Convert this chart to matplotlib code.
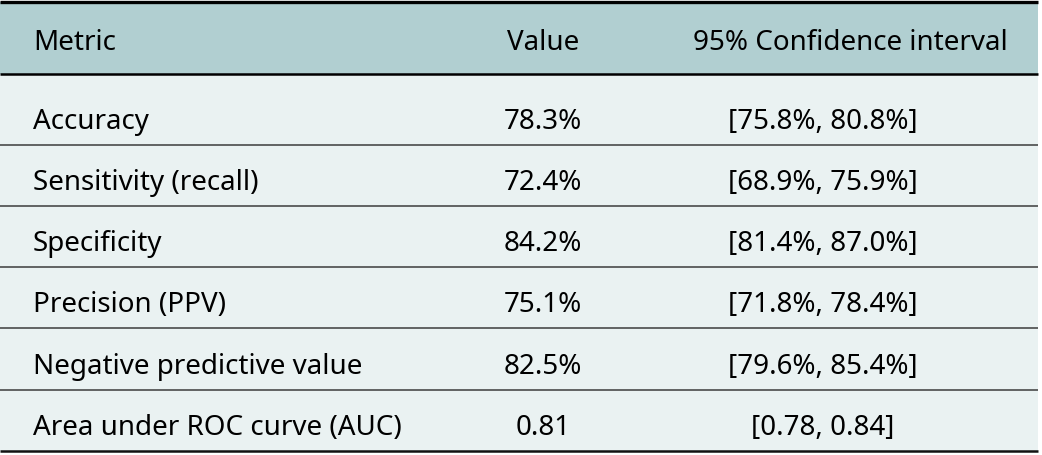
import matplotlib

matplotlib.use("Agg")
import matplotlib.pyplot as plt

plt.rcParams["font.family"] = ["Noto Sans", "DejaVu Sans"]

columns = ["Metric", "Value", "95% Confidence interval"]
metrics = ["Accuracy", "Sensitivity (recall)", "Specificity", "Precision (PPV)",
           "Negative predictive value", "Area under ROC curve (AUC)"]
values = ["78.3%", "72.4%", "84.2%", "75.1%", "82.5%", "0.81"]
ci = ["[75.8%, 80.8%]", "[68.9%, 75.9%]", "[81.4%, 87.0%]",
      "[71.8%, 78.4%]", "[79.6%, 85.4%]", "[0.78, 0.84]"]

W, H = 1042, 456
HEAD_BG = "#b1cfd1"
BODY_BG = "#eaf2f2"
FS = 20

fig = plt.figure(figsize=(W / 100, H / 100), dpi=100)
ax = fig.add_axes([0, 0, 1, 1])
ax.set_xlim(0, W); ax.set_ylim(H, 0); ax.axis("off")

x0, x1 = 0, 1038
top, head_bot = 3, 75
seps = [146, 207, 268, 329, 391, 452]
col_x = [33, 543, 823]

ax.fill_between([x0, x1], top, head_bot, color=HEAD_BG, lw=0)
ax.fill_between([x0, x1], head_bot, seps[-1], color=BODY_BG, lw=0)

ax.hlines(top, x0, x1, color="black", lw=2.4)
ax.hlines(head_bot, x0, x1, color="black", lw=1.8)
for y in seps[:-1]:
    ax.hlines(y, x0, x1, color="#4a4a4a", lw=1.2)
ax.hlines(seps[-1], x0, x1, color="#111111", lw=1.8)

ax.text(col_x[0], 50, columns[0], fontsize=FS, va="baseline", ha="left")
ax.text(col_x[1], 50, columns[1], fontsize=FS, va="baseline", ha="center")
ax.text(850, 50, columns[2], fontsize=FS, va="baseline", ha="center")

for i, (m, v, c) in enumerate(zip(metrics, values, ci)):
    yb = seps[i] - 17
    ax.text(col_x[0], yb, m, fontsize=FS, va="baseline", ha="left")
    ax.text(col_x[1], yb, v, fontsize=FS, va="baseline", ha="center")
    ax.text(col_x[2], yb, c, fontsize=FS, va="baseline", ha="center")

fig.savefig("out.png", dpi=100)
